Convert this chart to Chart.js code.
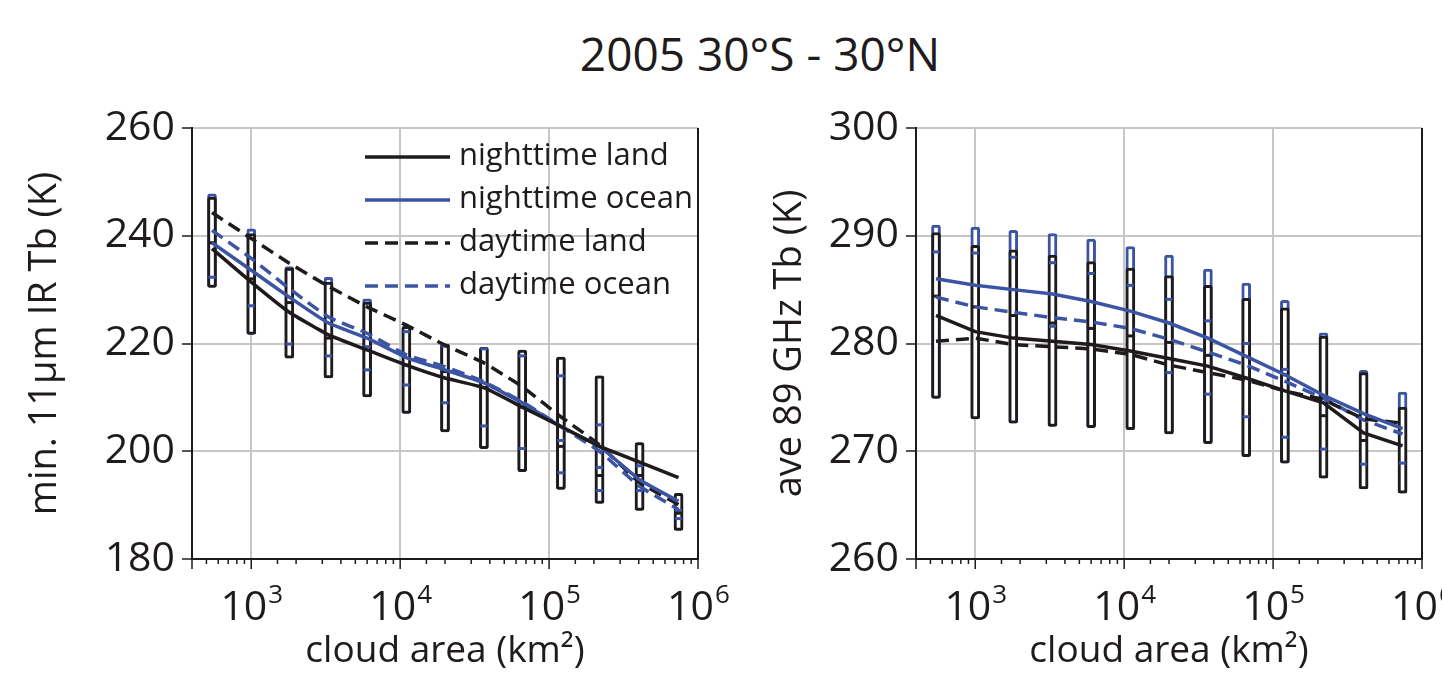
<!DOCTYPE html>
<html>
<head>
<meta charset="utf-8">
<script src="https://cdn.jsdelivr.net/npm/chart.js@4.4.1/dist/chart.umd.min.js"></script>
<style>
  body { margin: 0; background: #fff; width: 1442px; height: 675px; overflow: hidden; position: relative; font-family: "Open Sans", sans-serif; }
  #title { position: absolute; left: 460px; width: 600px; top: 22px; text-align: center; font-size: 46px; color: #1f1b1c; }
  #irChart { position: absolute; left: 0; top: 0; }
  #mwChart { position: absolute; left: 720px; top: 0; }
</style>
</head>
<body>
<div id="title">2005 30°S - 30°N</div>
<canvas id="irChart" width="760" height="675"></canvas>
<canvas id="mwChart" width="722" height="675"></canvas>
<script>
// bin centres (cloud area, km2)
const cloudArea = [545, 1000, 1800, 3300, 6000, 11000, 20000, 36500, 66000, 120000, 218000, 405000, 740000];
const decades = [1e3, 1e4, 1e5, 1e6];
const decadeExp = ['3', '4', '5', '6'];
const irTicks = [180, 200, 220, 240, 260];
const mwTicks = [260, 270, 280, 290, 300];
const seriesNames = ['nighttime land', 'nighttime ocean', 'daytime land', 'daytime ocean'];

// left panel: min 11um IR Tb
const irNightLand = [237.6, 231.4, 225.8, 221.6, 218.8, 216.0, 213.6, 211.8, 208.2, 204.6, 200.9, 198.0, 195.1];
const irNightOcean = [238.7, 233.6, 228.6, 223.8, 221.0, 217.4, 215.1, 212.7, 209.0, 204.6, 200.9, 194.7, 190.7];
const irDayLand = [244.3, 239.5, 234.9, 230.6, 226.8, 223.4, 219.7, 216.4, 212.0, 206.4, 201.2, 194.2, 190.1];
const irDayOcean = [241.0, 235.8, 230.2, 224.9, 221.9, 217.9, 215.7, 212.9, 209.2, 204.6, 200.0, 193.5, 189.2];
const irLandLow = [230.4, 221.7, 217.3, 213.6, 210.1, 207.0, 203.6, 200.5, 196.2, 192.9, 190.3, 189.0, 185.3];
const irLandHigh = [247.2, 240.4, 234.0, 231.4, 227.7, 223.2, 219.9, 219.3, 218.8, 217.5, 214.0, 201.6, 192.2];
const irOceanHigh = [247.8, 241.3, 234.3, 232.3, 228.3, 223.2, 219.9, 219.3, 218.8, 217.5, 214.0, 201.6, 192.2];
const irOceanMarkA = [null, null, null, null, 219.4, 222.2, 219.5, 219.0, 217.7, 214.0, 204.9, 197.3, 189.0];
const irOceanMarkB = [232.3, 227.0, 219.9, 217.7, 215.1, 212.3, 209.0, 204.7, 200.5, 202.0, 197.0, 192.7, 187.5];
const irOceanMarkC = [null, null, null, null, null, null, null, null, null, 196.0, 192.7, null, null];
const irLandMark = [238.7, 232.0, 227.6, 221.0, null, 216.0, 214.8, 211.8, 208.2, 200.9, 195.5, 195.5, 188.5];

// right panel: ave 89 GHz Tb
const mwNightLand = [282.6, 281.1, 280.5, 280.2, 279.9, 279.3, 278.6, 277.9, 276.8, 275.6, 274.5, 271.7, 270.5];
const mwNightOcean = [286.0, 285.4, 285.0, 284.6, 283.9, 283.0, 281.9, 280.5, 278.8, 277.1, 275.2, 273.5, 272.1];
const mwDayLand = [280.2, 280.5, 279.9, 279.7, 279.5, 279.0, 278.0, 277.3, 276.6, 275.6, 274.8, 273.0, 272.6];
const mwDayOcean = [284.3, 283.4, 282.9, 282.4, 282.0, 281.4, 280.4, 279.2, 278.0, 276.5, 274.9, 272.9, 271.6];
const mwLandLow = [274.9, 273.0, 272.6, 272.3, 272.2, 272.0, 271.6, 270.7, 269.5, 268.9, 267.5, 266.5, 266.1];
const mwLandHigh = [290.3, 289.1, 288.7, 288.2, 287.6, 287.0, 286.3, 285.4, 284.2, 283.3, 280.7, 277.3, 274.1];
const mwOceanHigh = [291.0, 290.8, 290.5, 290.2, 289.7, 289.0, 288.2, 286.9, 285.6, 284.0, 281.0, 277.5, 275.5];
const mwOceanMarkA = [288.5, 288.4, 288.0, 287.5, 286.5, 285.4, 284.1, 282.1, 280.0, 277.6, null, null, null];
const mwOceanMarkB = [null, null, null, 281.6, null, null, 277.3, 275.3, 273.2, 271.3, 270.2, 268.8, 268.9];
const mwOceanMarkC = [null, null, null, null, null, null, null, null, null, null, null, null, null];
const mwLandMark = [284.4, 283.4, 282.6, 281.9, 281.4, 280.7, 280.1, 278.9, null, 277.1, 273.3, 271.0, null];

const ink = '#1f1b1c';
const blue = '#3b54a3';
const gridGrey = '#c6c6c6';
const font = '"Open Sans", sans-serif';

function isDecade(v) {
    const l = Math.log10(v);
    return Math.abs(l - Math.round(l)) < 1e-6;
}

function lineSet(label, ys, color, dashed, tension) {
    return {
        type: 'line', label: label,
        data: cloudArea.map((x, i) => ({x: x, y: ys[i]})),
        borderColor: color, borderWidth: 3.5,
        borderDash: dashed ? [13, 7] : [],
        pointRadius: 0, fill: false, tension: tension, order: 0
    };
}

function boxSet(lo, hi, color, order) {
    return {
        type: 'bar',
        data: cloudArea.map((x, i) => ({x: x, y: [lo[i], hi[i]]})),
        backgroundColor: '#fff', borderColor: color, borderWidth: 3,
        borderSkipped: false, borderRadius: 2.5, barThickness: 9,
        grouped: false, order: order
    };
}

function markSet(ys, color) {
    return {
        type: 'scatter',
        data: cloudArea.map((x, i) => ({x: x, y: ys[i]})).filter(p => p.y !== null),
        pointStyle: 'line', pointRadius: 3.5, pointBorderWidth: 3,
        borderColor: color, showLine: false, order: 1
    };
}

// minor ticks, decade labels and right frame
const axisDecor = {
    id: 'axisDecor',
    afterDraw(chart) {
        const {ctx, chartArea} = chart;
        const x = chart.scales.x;
        ctx.save();
        ctx.strokeStyle = ink;
        ctx.lineWidth = 2;
        ctx.beginPath();
        ctx.moveTo(chartArea.right, chartArea.top);
        ctx.lineTo(chartArea.right, chartArea.bottom);
        ctx.stroke();
        ctx.lineWidth = 1.5;
        x.ticks.forEach(t => {
            const px = x.getPixelForValue(t.value);
            const len = (isDecade(t.value) || t.value === x.min) ? 10 : 5;
            ctx.beginPath();
            ctx.moveTo(px, chartArea.bottom);
            ctx.lineTo(px, chartArea.bottom + len);
            ctx.stroke();
        });
        ctx.fillStyle = ink;
        ctx.textBaseline = 'alphabetic';
        decades.forEach((d, i) => {
            const px = x.getPixelForValue(d);
            ctx.font = '41px ' + font;
            const w1 = ctx.measureText('10').width;
            ctx.font = '26px ' + font;
            const w2 = ctx.measureText(decadeExp[i]).width;
            const start = px - (w1 + w2) / 2;
            ctx.font = '41px ' + font;
            ctx.fillText('10', start, chartArea.bottom + 61);
            ctx.font = '26px ' + font;
            ctx.fillText(decadeExp[i], start + w1 + 1, chartArea.bottom + 44);
        });
        ctx.restore();
    }
};

const legendInside = {
    id: 'legendInside',
    afterDatasetsDraw(chart, args, opts) {
        if (!opts.show) return;
        const {ctx, chartArea} = chart;
        const items = chart.data.datasets.filter(d => d.type === 'line');
        ctx.save();
        ctx.font = '31px ' + font;
        ctx.textBaseline = 'middle';
        items.forEach((d, i) => {
            const y = chartArea.top + opts.top + i * opts.rowGap;
            const x0 = chartArea.left + opts.left;
            ctx.strokeStyle = d.borderColor;
            ctx.lineWidth = 3.5;
            ctx.setLineDash(d.borderDash);
            ctx.beginPath();
            ctx.moveTo(x0, y);
            ctx.lineTo(x0 + 85, y);
            ctx.stroke();
            ctx.setLineDash([]);
            ctx.fillStyle = ink;
            ctx.fillText(d.label, x0 + 94, y - 1);
        });
        ctx.restore();
    }
};

function makePanel(canvasId, p) {
    const datasets = [
        lineSet(seriesNames[0], p.nightLand, ink, false, p.tension),
        lineSet(seriesNames[1], p.nightOcean, blue, false, p.tension),
        lineSet(seriesNames[2], p.dayLand, ink, true, p.tension),
        lineSet(seriesNames[3], p.dayOcean, blue, true, p.tension),
        markSet(p.landMark, ink),
        markSet(p.oceanA, blue),
        markSet(p.oceanB, blue),
        markSet(p.oceanC, blue),
        boxSet(p.landLow, p.landHigh, ink, 2),
        boxSet(p.landLow, p.oceanHigh, blue, 3)
    ];
    return new Chart(document.getElementById(canvasId), {
        type: 'line',
        data: {datasets: datasets},
        plugins: [axisDecor, legendInside],
        options: {
            responsive: false,
            animation: false,
            events: [],
            layout: {padding: {top: 128, right: p.padRight, left: 0, bottom: 0}},
            plugins: {
                legend: {display: false},
                tooltip: {enabled: false},
                legendInside: {show: p.legend, left: 173, top: 29, rowGap: 43}
            },
            scales: {
                x: {
                    type: 'logarithmic', min: 400, max: 1e6,
                    offset: false,
                    afterFit: s => { s.height = 116; s.paddingLeft = 0; s.paddingRight = 0; },
                    grid: {
                        offset: false, drawTicks: false, lineWidth: 2,
                        color: c => (c.tick && isDecade(c.tick.value)) ? gridGrey : 'rgba(0,0,0,0)'
                    },
                    border: {color: ink, width: 2},
                    ticks: {display: false},
                    title: {display: true, text: 'cloud area (km²)', color: ink,
                        font: {family: font, size: 37}, padding: {top: 0, bottom: 1}}
                },
                y: {
                    min: p.ticks[0], max: p.ticks[p.ticks.length - 1],
                    afterFit: s => { s.width = p.yWidth; },
                    afterBuildTicks: s => { s.ticks = p.ticks.map(v => ({value: v})); },
                    grid: {
                        lineWidth: 2, tickLength: 10, tickColor: ink, tickWidth: 1.5,
                        color: c => (c.tick && c.tick.value === p.ticks[0]) ? 'rgba(0,0,0,0)' : gridGrey
                    },
                    border: {color: ink, width: 2},
                    ticks: {color: ink, font: {family: font, size: 41}, padding: 7},
                    title: {display: true, text: p.yTitle, color: ink,
                        font: {family: font, size: 38}, padding: {top: p.yTitlePad, bottom: 0}}
                }
            }
        }
    });
}

makePanel('irChart', {
    nightLand: irNightLand, nightOcean: irNightOcean, dayLand: irDayLand, dayOcean: irDayOcean,
    landLow: irLandLow, landHigh: irLandHigh, oceanHigh: irOceanHigh,
    landMark: irLandMark, oceanA: irOceanMarkA, oceanB: irOceanMarkB, oceanC: irOceanMarkC,
    ticks: irTicks, yTitle: 'min. 11μm IR Tb (K)', yWidth: 192, yTitlePad: 22,
    padRight: 62, tension: 0.12, legend: true
});

makePanel('mwChart', {
    nightLand: mwNightLand, nightOcean: mwNightOcean, dayLand: mwDayLand, dayOcean: mwDayOcean,
    landLow: mwLandLow, landHigh: mwLandHigh, oceanHigh: mwOceanHigh,
    landMark: mwLandMark, oceanA: mwOceanMarkA, oceanB: mwOceanMarkB, oceanC: mwOceanMarkC,
    ticks: mwTicks, yTitle: 'ave 89 GHz Tb (K)', yWidth: 196, yTitlePad: 47,
    padRight: 20, tension: 0, legend: false
});
</script>
</body>
</html>
